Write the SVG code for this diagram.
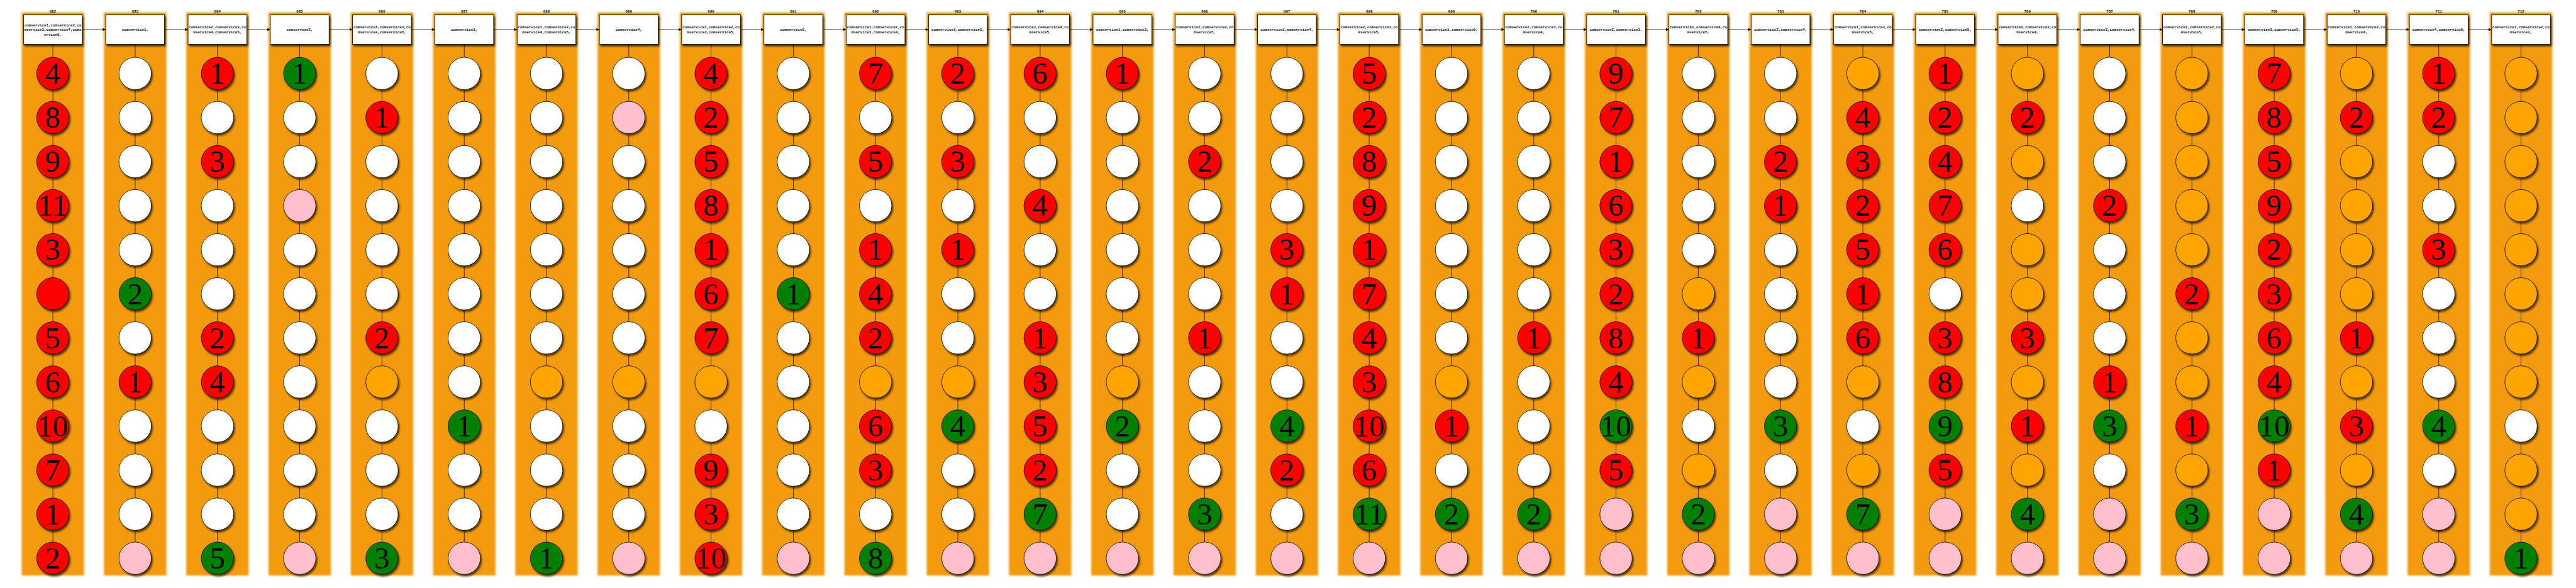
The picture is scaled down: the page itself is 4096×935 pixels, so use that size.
<svg xmlns="http://www.w3.org/2000/svg" width="4096" height="935" viewBox="0 0 4096 935">
<defs>
<style>
circle{stroke:#000;stroke-width:1.3;filter:url(#shc)}
.r{fill:#ff0000}.w{fill:#ffffff}.g{fill:#008000}.p{fill:#ffc0cb}.o{fill:#ffa500}
.d{font-family:"Liberation Serif",serif;font-size:84px;text-anchor:middle;fill:#000}
.box{fill:#fff;stroke:#000;stroke-width:1.5;filter:url(#shb)}
.bt{font-family:"Liberation Mono",monospace;font-weight:bold;font-size:10px;text-anchor:middle;fill:#000}
.lb{font-family:"Liberation Mono",monospace;font-weight:bold;font-size:10px;text-anchor:middle;fill:#000}
.lane{fill:#f39a07;filter:url(#blur)}
#connectors line{stroke:#000;stroke-width:1.3}
</style>
<filter id="blur" x="-5%" y="-1%" width="110%" height="102%"><feGaussianBlur stdDeviation="2.5"/></filter>
<filter id="shb" x="-10%" y="-10%" width="130%" height="140%"><feGaussianBlur in="SourceAlpha" stdDeviation="2.5"/><feOffset dx="4" dy="5"/><feComponentTransfer><feFuncA type="linear" slope="0.65"/></feComponentTransfer><feMerge><feMergeNode/><feMergeNode in="SourceGraphic"/></feMerge></filter>
<filter id="shc" x="-20%" y="-20%" width="150%" height="150%"><feGaussianBlur in="SourceAlpha" stdDeviation="2.5"/><feOffset dx="3" dy="5"/><feComponentTransfer><feFuncA type="linear" slope="0.65"/></feComponentTransfer><feMerge><feMergeNode/><feMergeNode in="SourceGraphic"/></feMerge></filter>
<marker id="ah" viewBox="0 0 10 10" refX="10" refY="5" markerUnits="userSpaceOnUse" markerWidth="9" markerHeight="8" orient="auto"><path d="M0,0 L10,5 L0,10 z" fill="#000"/></marker>
</defs>
<rect width="4096" height="935" fill="#fff"/>
<g transform="scale(0.584)">
<g id="lanes">
<rect class="lane" x="59" y="34" width="170" height="1533"/>
<rect class="lane" x="283" y="34" width="170" height="1533"/>
<rect class="lane" x="507" y="34" width="170" height="1533"/>
<rect class="lane" x="731" y="34" width="170" height="1533"/>
<rect class="lane" x="955" y="34" width="170" height="1533"/>
<rect class="lane" x="1179" y="34" width="170" height="1533"/>
<rect class="lane" x="1403" y="34" width="170" height="1533"/>
<rect class="lane" x="1627" y="34" width="170" height="1533"/>
<rect class="lane" x="1851" y="34" width="170" height="1533"/>
<rect class="lane" x="2075" y="34" width="170" height="1533"/>
<rect class="lane" x="2299" y="34" width="170" height="1533"/>
<rect class="lane" x="2523" y="34" width="170" height="1533"/>
<rect class="lane" x="2747" y="34" width="170" height="1533"/>
<rect class="lane" x="2971" y="34" width="170" height="1533"/>
<rect class="lane" x="3195" y="34" width="170" height="1533"/>
<rect class="lane" x="3419" y="34" width="170" height="1533"/>
<rect class="lane" x="3643" y="34" width="170" height="1533"/>
<rect class="lane" x="3867" y="34" width="170" height="1533"/>
<rect class="lane" x="4091" y="34" width="170" height="1533"/>
<rect class="lane" x="4315" y="34" width="170" height="1533"/>
<rect class="lane" x="4539" y="34" width="170" height="1533"/>
<rect class="lane" x="4763" y="34" width="170" height="1533"/>
<rect class="lane" x="4987" y="34" width="170" height="1533"/>
<rect class="lane" x="5211" y="34" width="170" height="1533"/>
<rect class="lane" x="5435" y="34" width="170" height="1533"/>
<rect class="lane" x="5659" y="34" width="170" height="1533"/>
<rect class="lane" x="5883" y="34" width="170" height="1533"/>
<rect class="lane" x="6107" y="34" width="170" height="1533"/>
<rect class="lane" x="6331" y="34" width="170" height="1533"/>
<rect class="lane" x="6555" y="34" width="170" height="1533"/>
<rect class="lane" x="6779" y="34" width="170" height="1533"/>
</g>
<g id="connectors">
<line x1="144" y1="120" x2="144" y2="1476"/><line x1="368" y1="120" x2="368" y2="1476"/><line x1="592" y1="120" x2="592" y2="1476"/><line x1="816" y1="120" x2="816" y2="1476"/><line x1="1040" y1="120" x2="1040" y2="1476"/><line x1="1264" y1="120" x2="1264" y2="1476"/><line x1="1488" y1="120" x2="1488" y2="1476"/><line x1="1712" y1="120" x2="1712" y2="1476"/><line x1="1936" y1="120" x2="1936" y2="1476"/><line x1="2160" y1="120" x2="2160" y2="1476"/><line x1="2384" y1="120" x2="2384" y2="1476"/><line x1="2608" y1="120" x2="2608" y2="1476"/><line x1="2832" y1="120" x2="2832" y2="1476"/><line x1="3056" y1="120" x2="3056" y2="1476"/><line x1="3280" y1="120" x2="3280" y2="1476"/><line x1="3504" y1="120" x2="3504" y2="1476"/><line x1="3728" y1="120" x2="3728" y2="1476"/><line x1="3952" y1="120" x2="3952" y2="1476"/><line x1="4176" y1="120" x2="4176" y2="1476"/><line x1="4400" y1="120" x2="4400" y2="1476"/><line x1="4624" y1="120" x2="4624" y2="1476"/><line x1="4848" y1="120" x2="4848" y2="1476"/><line x1="5072" y1="120" x2="5072" y2="1476"/><line x1="5296" y1="120" x2="5296" y2="1476"/><line x1="5520" y1="120" x2="5520" y2="1476"/><line x1="5744" y1="120" x2="5744" y2="1476"/><line x1="5968" y1="120" x2="5968" y2="1476"/><line x1="6192" y1="120" x2="6192" y2="1476"/><line x1="6416" y1="120" x2="6416" y2="1476"/><line x1="6640" y1="120" x2="6640" y2="1476"/><line x1="6864" y1="120" x2="6864" y2="1476"/>
<g marker-end="url(#ah)">
<line x1="224" y1="80.5" x2="288" y2="80.5"/><line x1="448" y1="80.5" x2="512" y2="80.5"/><line x1="672" y1="80.5" x2="736" y2="80.5"/><line x1="896" y1="80.5" x2="960" y2="80.5"/><line x1="1120" y1="80.5" x2="1184" y2="80.5"/><line x1="1344" y1="80.5" x2="1408" y2="80.5"/><line x1="1568" y1="80.5" x2="1632" y2="80.5"/><line x1="1792" y1="80.5" x2="1856" y2="80.5"/><line x1="2016" y1="80.5" x2="2080" y2="80.5"/><line x1="2240" y1="80.5" x2="2304" y2="80.5"/><line x1="2464" y1="80.5" x2="2528" y2="80.5"/><line x1="2688" y1="80.5" x2="2752" y2="80.5"/><line x1="2912" y1="80.5" x2="2976" y2="80.5"/><line x1="3136" y1="80.5" x2="3200" y2="80.5"/><line x1="3360" y1="80.5" x2="3424" y2="80.5"/><line x1="3584" y1="80.5" x2="3648" y2="80.5"/><line x1="3808" y1="80.5" x2="3872" y2="80.5"/><line x1="4032" y1="80.5" x2="4096" y2="80.5"/><line x1="4256" y1="80.5" x2="4320" y2="80.5"/><line x1="4480" y1="80.5" x2="4544" y2="80.5"/><line x1="4704" y1="80.5" x2="4768" y2="80.5"/><line x1="4928" y1="80.5" x2="4992" y2="80.5"/><line x1="5152" y1="80.5" x2="5216" y2="80.5"/><line x1="5376" y1="80.5" x2="5440" y2="80.5"/><line x1="5600" y1="80.5" x2="5664" y2="80.5"/><line x1="5824" y1="80.5" x2="5888" y2="80.5"/><line x1="6048" y1="80.5" x2="6112" y2="80.5"/><line x1="6272" y1="80.5" x2="6336" y2="80.5"/><line x1="6496" y1="80.5" x2="6560" y2="80.5"/><line x1="6720" y1="80.5" x2="6784" y2="80.5"/>
</g>
</g>
<g id="nodes">
<g id="col682" transform="translate(144,0)"><text class="lb" y="34.5">682</text>
<g id="box682"><rect class="box" x="-80" y="40.5" width="160" height="80"/><text class="bt" y="71.5">comservice1,comservice2,co</text><text class="bt" y="84.5">mservice3,comservice4,coms</text><text class="bt" y="97.5">ervice5,</text></g>
<g id="n682-1"><circle class="r" cy="200" r="44"/><text class="d" y="228">4</text></g>
<g id="n682-2"><circle class="r" cy="320" r="44"/><text class="d" y="348">8</text></g>
<g id="n682-3"><circle class="r" cy="440" r="44"/><text class="d" y="468">9</text></g>
<g id="n682-4"><circle class="r" cy="560" r="44"/><text class="d" y="588">11</text></g>
<g id="n682-5"><circle class="r" cy="680" r="44"/><text class="d" y="708">3</text></g>
<g id="n682-6"><circle class="r" cy="800" r="44"/></g>
<g id="n682-7"><circle class="r" cy="920" r="44"/><text class="d" y="948">5</text></g>
<g id="n682-8"><circle class="r" cy="1040" r="44"/><text class="d" y="1068">6</text></g>
<g id="n682-9"><circle class="r" cy="1160" r="44"/><text class="d" y="1188">10</text></g>
<g id="n682-10"><circle class="r" cy="1280" r="44"/><text class="d" y="1308">7</text></g>
<g id="n682-11"><circle class="r" cy="1400" r="44"/><text class="d" y="1428">1</text></g>
<g id="n682-12"><circle class="r" cy="1520" r="44"/><text class="d" y="1548">2</text></g>
</g>
<g id="col683" transform="translate(368,0)"><text class="lb" y="34.5">683</text>
<g id="box683"><rect class="box" x="-80" y="40.5" width="160" height="80"/><text class="bt" y="84.2">comservice1,</text></g>
<g id="n683-1"><circle class="w" cy="200" r="44"/></g>
<g id="n683-2"><circle class="w" cy="320" r="44"/></g>
<g id="n683-3"><circle class="w" cy="440" r="44"/></g>
<g id="n683-4"><circle class="w" cy="560" r="44"/></g>
<g id="n683-5"><circle class="w" cy="680" r="44"/></g>
<g id="n683-6"><circle class="g" cy="800" r="44"/><text class="d" y="828">2</text></g>
<g id="n683-7"><circle class="w" cy="920" r="44"/></g>
<g id="n683-8"><circle class="r" cy="1040" r="44"/><text class="d" y="1068">1</text></g>
<g id="n683-9"><circle class="w" cy="1160" r="44"/></g>
<g id="n683-10"><circle class="w" cy="1280" r="44"/></g>
<g id="n683-11"><circle class="w" cy="1400" r="44"/></g>
<g id="n683-12"><circle class="p" cy="1520" r="44"/></g>
</g>
<g id="col684" transform="translate(592,0)"><text class="lb" y="34.5">684</text>
<g id="box684"><rect class="box" x="-80" y="40.5" width="160" height="80"/><text class="bt" y="77.7">comservice2,comservice3,co</text><text class="bt" y="90.7">mservice4,comservice5,</text></g>
<g id="n684-1"><circle class="r" cy="200" r="44"/><text class="d" y="228">1</text></g>
<g id="n684-2"><circle class="w" cy="320" r="44"/></g>
<g id="n684-3"><circle class="r" cy="440" r="44"/><text class="d" y="468">3</text></g>
<g id="n684-4"><circle class="w" cy="560" r="44"/></g>
<g id="n684-5"><circle class="w" cy="680" r="44"/></g>
<g id="n684-6"><circle class="w" cy="800" r="44"/></g>
<g id="n684-7"><circle class="r" cy="920" r="44"/><text class="d" y="948">2</text></g>
<g id="n684-8"><circle class="r" cy="1040" r="44"/><text class="d" y="1068">4</text></g>
<g id="n684-9"><circle class="w" cy="1160" r="44"/></g>
<g id="n684-10"><circle class="w" cy="1280" r="44"/></g>
<g id="n684-11"><circle class="w" cy="1400" r="44"/></g>
<g id="n684-12"><circle class="g" cy="1520" r="44"/><text class="d" y="1548">5</text></g>
</g>
<g id="col685" transform="translate(816,0)"><text class="lb" y="34.5">685</text>
<g id="box685"><rect class="box" x="-80" y="40.5" width="160" height="80"/><text class="bt" y="84.2">comservice2,</text></g>
<g id="n685-1"><circle class="g" cy="200" r="44"/><text class="d" y="228">1</text></g>
<g id="n685-2"><circle class="w" cy="320" r="44"/></g>
<g id="n685-3"><circle class="w" cy="440" r="44"/></g>
<g id="n685-4"><circle class="p" cy="560" r="44"/></g>
<g id="n685-5"><circle class="w" cy="680" r="44"/></g>
<g id="n685-6"><circle class="w" cy="800" r="44"/></g>
<g id="n685-7"><circle class="w" cy="920" r="44"/></g>
<g id="n685-8"><circle class="w" cy="1040" r="44"/></g>
<g id="n685-9"><circle class="w" cy="1160" r="44"/></g>
<g id="n685-10"><circle class="w" cy="1280" r="44"/></g>
<g id="n685-11"><circle class="w" cy="1400" r="44"/></g>
<g id="n685-12"><circle class="p" cy="1520" r="44"/></g>
</g>
<g id="col686" transform="translate(1040,0)"><text class="lb" y="34.5">686</text>
<g id="box686"><rect class="box" x="-80" y="40.5" width="160" height="80"/><text class="bt" y="77.7">comservice1,comservice3,co</text><text class="bt" y="90.7">mservice4,comservice5,</text></g>
<g id="n686-1"><circle class="w" cy="200" r="44"/></g>
<g id="n686-2"><circle class="r" cy="320" r="44"/><text class="d" y="348">1</text></g>
<g id="n686-3"><circle class="w" cy="440" r="44"/></g>
<g id="n686-4"><circle class="w" cy="560" r="44"/></g>
<g id="n686-5"><circle class="w" cy="680" r="44"/></g>
<g id="n686-6"><circle class="w" cy="800" r="44"/></g>
<g id="n686-7"><circle class="r" cy="920" r="44"/><text class="d" y="948">2</text></g>
<g id="n686-8"><circle class="o" cy="1040" r="44"/></g>
<g id="n686-9"><circle class="w" cy="1160" r="44"/></g>
<g id="n686-10"><circle class="w" cy="1280" r="44"/></g>
<g id="n686-11"><circle class="w" cy="1400" r="44"/></g>
<g id="n686-12"><circle class="g" cy="1520" r="44"/><text class="d" y="1548">3</text></g>
</g>
<g id="col687" transform="translate(1264,0)"><text class="lb" y="34.5">687</text>
<g id="box687"><rect class="box" x="-80" y="40.5" width="160" height="80"/><text class="bt" y="84.2">comservice3,</text></g>
<g id="n687-1"><circle class="w" cy="200" r="44"/></g>
<g id="n687-2"><circle class="w" cy="320" r="44"/></g>
<g id="n687-3"><circle class="w" cy="440" r="44"/></g>
<g id="n687-4"><circle class="w" cy="560" r="44"/></g>
<g id="n687-5"><circle class="w" cy="680" r="44"/></g>
<g id="n687-6"><circle class="w" cy="800" r="44"/></g>
<g id="n687-7"><circle class="w" cy="920" r="44"/></g>
<g id="n687-8"><circle class="w" cy="1040" r="44"/></g>
<g id="n687-9"><circle class="g" cy="1160" r="44"/><text class="d" y="1188">1</text></g>
<g id="n687-10"><circle class="w" cy="1280" r="44"/></g>
<g id="n687-11"><circle class="w" cy="1400" r="44"/></g>
<g id="n687-12"><circle class="p" cy="1520" r="44"/></g>
</g>
<g id="col688" transform="translate(1488,0)"><text class="lb" y="34.5">688</text>
<g id="box688"><rect class="box" x="-80" y="40.5" width="160" height="80"/><text class="bt" y="77.7">comservice1,comservice2,co</text><text class="bt" y="90.7">mservice4,comservice5,</text></g>
<g id="n688-1"><circle class="w" cy="200" r="44"/></g>
<g id="n688-2"><circle class="w" cy="320" r="44"/></g>
<g id="n688-3"><circle class="w" cy="440" r="44"/></g>
<g id="n688-4"><circle class="w" cy="560" r="44"/></g>
<g id="n688-5"><circle class="w" cy="680" r="44"/></g>
<g id="n688-6"><circle class="w" cy="800" r="44"/></g>
<g id="n688-7"><circle class="w" cy="920" r="44"/></g>
<g id="n688-8"><circle class="o" cy="1040" r="44"/></g>
<g id="n688-9"><circle class="w" cy="1160" r="44"/></g>
<g id="n688-10"><circle class="w" cy="1280" r="44"/></g>
<g id="n688-11"><circle class="w" cy="1400" r="44"/></g>
<g id="n688-12"><circle class="g" cy="1520" r="44"/><text class="d" y="1548">1</text></g>
</g>
<g id="col689" transform="translate(1712,0)"><text class="lb" y="34.5">689</text>
<g id="box689"><rect class="box" x="-80" y="40.5" width="160" height="80"/><text class="bt" y="84.2">comservice4,</text></g>
<g id="n689-1"><circle class="w" cy="200" r="44"/></g>
<g id="n689-2"><circle class="p" cy="320" r="44"/></g>
<g id="n689-3"><circle class="w" cy="440" r="44"/></g>
<g id="n689-4"><circle class="w" cy="560" r="44"/></g>
<g id="n689-5"><circle class="w" cy="680" r="44"/></g>
<g id="n689-6"><circle class="w" cy="800" r="44"/></g>
<g id="n689-7"><circle class="w" cy="920" r="44"/></g>
<g id="n689-8"><circle class="o" cy="1040" r="44"/></g>
<g id="n689-9"><circle class="w" cy="1160" r="44"/></g>
<g id="n689-10"><circle class="w" cy="1280" r="44"/></g>
<g id="n689-11"><circle class="w" cy="1400" r="44"/></g>
<g id="n689-12"><circle class="p" cy="1520" r="44"/></g>
</g>
<g id="col690" transform="translate(1936,0)"><text class="lb" y="34.5">690</text>
<g id="box690"><rect class="box" x="-80" y="40.5" width="160" height="80"/><text class="bt" y="77.7">comservice1,comservice2,co</text><text class="bt" y="90.7">mservice3,comservice5,</text></g>
<g id="n690-1"><circle class="r" cy="200" r="44"/><text class="d" y="228">4</text></g>
<g id="n690-2"><circle class="r" cy="320" r="44"/><text class="d" y="348">2</text></g>
<g id="n690-3"><circle class="r" cy="440" r="44"/><text class="d" y="468">5</text></g>
<g id="n690-4"><circle class="r" cy="560" r="44"/><text class="d" y="588">8</text></g>
<g id="n690-5"><circle class="r" cy="680" r="44"/><text class="d" y="708">1</text></g>
<g id="n690-6"><circle class="r" cy="800" r="44"/><text class="d" y="828">6</text></g>
<g id="n690-7"><circle class="r" cy="920" r="44"/><text class="d" y="948">7</text></g>
<g id="n690-8"><circle class="o" cy="1040" r="44"/></g>
<g id="n690-9"><circle class="w" cy="1160" r="44"/></g>
<g id="n690-10"><circle class="r" cy="1280" r="44"/><text class="d" y="1308">9</text></g>
<g id="n690-11"><circle class="r" cy="1400" r="44"/><text class="d" y="1428">3</text></g>
<g id="n690-12"><circle class="r" cy="1520" r="44"/><text class="d" y="1548">10</text></g>
</g>
<g id="col691" transform="translate(2160,0)"><text class="lb" y="34.5">691</text>
<g id="box691"><rect class="box" x="-80" y="40.5" width="160" height="80"/><text class="bt" y="84.2">comservice5,</text></g>
<g id="n691-1"><circle class="w" cy="200" r="44"/></g>
<g id="n691-2"><circle class="w" cy="320" r="44"/></g>
<g id="n691-3"><circle class="w" cy="440" r="44"/></g>
<g id="n691-4"><circle class="w" cy="560" r="44"/></g>
<g id="n691-5"><circle class="w" cy="680" r="44"/></g>
<g id="n691-6"><circle class="g" cy="800" r="44"/><text class="d" y="828">1</text></g>
<g id="n691-7"><circle class="w" cy="920" r="44"/></g>
<g id="n691-8"><circle class="w" cy="1040" r="44"/></g>
<g id="n691-9"><circle class="w" cy="1160" r="44"/></g>
<g id="n691-10"><circle class="w" cy="1280" r="44"/></g>
<g id="n691-11"><circle class="w" cy="1400" r="44"/></g>
<g id="n691-12"><circle class="p" cy="1520" r="44"/></g>
</g>
<g id="col692" transform="translate(2384,0)"><text class="lb" y="34.5">692</text>
<g id="box692"><rect class="box" x="-80" y="40.5" width="160" height="80"/><text class="bt" y="77.7">comservice1,comservice2,co</text><text class="bt" y="90.7">mservice3,comservice4,</text></g>
<g id="n692-1"><circle class="r" cy="200" r="44"/><text class="d" y="228">7</text></g>
<g id="n692-2"><circle class="w" cy="320" r="44"/></g>
<g id="n692-3"><circle class="r" cy="440" r="44"/><text class="d" y="468">5</text></g>
<g id="n692-4"><circle class="w" cy="560" r="44"/></g>
<g id="n692-5"><circle class="r" cy="680" r="44"/><text class="d" y="708">1</text></g>
<g id="n692-6"><circle class="r" cy="800" r="44"/><text class="d" y="828">4</text></g>
<g id="n692-7"><circle class="r" cy="920" r="44"/><text class="d" y="948">2</text></g>
<g id="n692-8"><circle class="o" cy="1040" r="44"/></g>
<g id="n692-9"><circle class="r" cy="1160" r="44"/><text class="d" y="1188">6</text></g>
<g id="n692-10"><circle class="r" cy="1280" r="44"/><text class="d" y="1308">3</text></g>
<g id="n692-11"><circle class="w" cy="1400" r="44"/></g>
<g id="n692-12"><circle class="g" cy="1520" r="44"/><text class="d" y="1548">8</text></g>
</g>
<g id="col693" transform="translate(2608,0)"><text class="lb" y="34.5">693</text>
<g id="box693"><rect class="box" x="-80" y="40.5" width="160" height="80"/><text class="bt" y="84.2">comservice1,comservice2,</text></g>
<g id="n693-1"><circle class="r" cy="200" r="44"/><text class="d" y="228">2</text></g>
<g id="n693-2"><circle class="w" cy="320" r="44"/></g>
<g id="n693-3"><circle class="r" cy="440" r="44"/><text class="d" y="468">3</text></g>
<g id="n693-4"><circle class="w" cy="560" r="44"/></g>
<g id="n693-5"><circle class="r" cy="680" r="44"/><text class="d" y="708">1</text></g>
<g id="n693-6"><circle class="w" cy="800" r="44"/></g>
<g id="n693-7"><circle class="w" cy="920" r="44"/></g>
<g id="n693-8"><circle class="o" cy="1040" r="44"/></g>
<g id="n693-9"><circle class="g" cy="1160" r="44"/><text class="d" y="1188">4</text></g>
<g id="n693-10"><circle class="w" cy="1280" r="44"/></g>
<g id="n693-11"><circle class="w" cy="1400" r="44"/></g>
<g id="n693-12"><circle class="p" cy="1520" r="44"/></g>
</g>
<g id="col694" transform="translate(2832,0)"><text class="lb" y="34.5">694</text>
<g id="box694"><rect class="box" x="-80" y="40.5" width="160" height="80"/><text class="bt" y="77.7">comservice3,comservice4,co</text><text class="bt" y="90.7">mservice5,</text></g>
<g id="n694-1"><circle class="r" cy="200" r="44"/><text class="d" y="228">6</text></g>
<g id="n694-2"><circle class="w" cy="320" r="44"/></g>
<g id="n694-3"><circle class="w" cy="440" r="44"/></g>
<g id="n694-4"><circle class="r" cy="560" r="44"/><text class="d" y="588">4</text></g>
<g id="n694-5"><circle class="w" cy="680" r="44"/></g>
<g id="n694-6"><circle class="w" cy="800" r="44"/></g>
<g id="n694-7"><circle class="r" cy="920" r="44"/><text class="d" y="948">1</text></g>
<g id="n694-8"><circle class="r" cy="1040" r="44"/><text class="d" y="1068">3</text></g>
<g id="n694-9"><circle class="r" cy="1160" r="44"/><text class="d" y="1188">5</text></g>
<g id="n694-10"><circle class="r" cy="1280" r="44"/><text class="d" y="1308">2</text></g>
<g id="n694-11"><circle class="g" cy="1400" r="44"/><text class="d" y="1428">7</text></g>
<g id="n694-12"><circle class="p" cy="1520" r="44"/></g>
</g>
<g id="col695" transform="translate(3056,0)"><text class="lb" y="34.5">695</text>
<g id="box695"><rect class="box" x="-80" y="40.5" width="160" height="80"/><text class="bt" y="84.2">comservice1,comservice3,</text></g>
<g id="n695-1"><circle class="r" cy="200" r="44"/><text class="d" y="228">1</text></g>
<g id="n695-2"><circle class="w" cy="320" r="44"/></g>
<g id="n695-3"><circle class="w" cy="440" r="44"/></g>
<g id="n695-4"><circle class="w" cy="560" r="44"/></g>
<g id="n695-5"><circle class="w" cy="680" r="44"/></g>
<g id="n695-6"><circle class="w" cy="800" r="44"/></g>
<g id="n695-7"><circle class="w" cy="920" r="44"/></g>
<g id="n695-8"><circle class="o" cy="1040" r="44"/></g>
<g id="n695-9"><circle class="g" cy="1160" r="44"/><text class="d" y="1188">2</text></g>
<g id="n695-10"><circle class="w" cy="1280" r="44"/></g>
<g id="n695-11"><circle class="w" cy="1400" r="44"/></g>
<g id="n695-12"><circle class="p" cy="1520" r="44"/></g>
</g>
<g id="col696" transform="translate(3280,0)"><text class="lb" y="34.5">696</text>
<g id="box696"><rect class="box" x="-80" y="40.5" width="160" height="80"/><text class="bt" y="77.7">comservice2,comservice4,co</text><text class="bt" y="90.7">mservice5,</text></g>
<g id="n696-1"><circle class="w" cy="200" r="44"/></g>
<g id="n696-2"><circle class="w" cy="320" r="44"/></g>
<g id="n696-3"><circle class="r" cy="440" r="44"/><text class="d" y="468">2</text></g>
<g id="n696-4"><circle class="w" cy="560" r="44"/></g>
<g id="n696-5"><circle class="w" cy="680" r="44"/></g>
<g id="n696-6"><circle class="w" cy="800" r="44"/></g>
<g id="n696-7"><circle class="r" cy="920" r="44"/><text class="d" y="948">1</text></g>
<g id="n696-8"><circle class="w" cy="1040" r="44"/></g>
<g id="n696-9"><circle class="w" cy="1160" r="44"/></g>
<g id="n696-10"><circle class="w" cy="1280" r="44"/></g>
<g id="n696-11"><circle class="g" cy="1400" r="44"/><text class="d" y="1428">3</text></g>
<g id="n696-12"><circle class="p" cy="1520" r="44"/></g>
</g>
<g id="col697" transform="translate(3504,0)"><text class="lb" y="34.5">697</text>
<g id="box697"><rect class="box" x="-80" y="40.5" width="160" height="80"/><text class="bt" y="84.2">comservice1,comservice4,</text></g>
<g id="n697-1"><circle class="w" cy="200" r="44"/></g>
<g id="n697-2"><circle class="w" cy="320" r="44"/></g>
<g id="n697-3"><circle class="w" cy="440" r="44"/></g>
<g id="n697-4"><circle class="w" cy="560" r="44"/></g>
<g id="n697-5"><circle class="r" cy="680" r="44"/><text class="d" y="708">3</text></g>
<g id="n697-6"><circle class="r" cy="800" r="44"/><text class="d" y="828">1</text></g>
<g id="n697-7"><circle class="w" cy="920" r="44"/></g>
<g id="n697-8"><circle class="w" cy="1040" r="44"/></g>
<g id="n697-9"><circle class="g" cy="1160" r="44"/><text class="d" y="1188">4</text></g>
<g id="n697-10"><circle class="r" cy="1280" r="44"/><text class="d" y="1308">2</text></g>
<g id="n697-11"><circle class="w" cy="1400" r="44"/></g>
<g id="n697-12"><circle class="p" cy="1520" r="44"/></g>
</g>
<g id="col698" transform="translate(3728,0)"><text class="lb" y="34.5">698</text>
<g id="box698"><rect class="box" x="-80" y="40.5" width="160" height="80"/><text class="bt" y="77.7">comservice2,comservice3,co</text><text class="bt" y="90.7">mservice5,</text></g>
<g id="n698-1"><circle class="r" cy="200" r="44"/><text class="d" y="228">5</text></g>
<g id="n698-2"><circle class="r" cy="320" r="44"/><text class="d" y="348">2</text></g>
<g id="n698-3"><circle class="r" cy="440" r="44"/><text class="d" y="468">8</text></g>
<g id="n698-4"><circle class="r" cy="560" r="44"/><text class="d" y="588">9</text></g>
<g id="n698-5"><circle class="r" cy="680" r="44"/><text class="d" y="708">1</text></g>
<g id="n698-6"><circle class="r" cy="800" r="44"/><text class="d" y="828">7</text></g>
<g id="n698-7"><circle class="r" cy="920" r="44"/><text class="d" y="948">4</text></g>
<g id="n698-8"><circle class="r" cy="1040" r="44"/><text class="d" y="1068">3</text></g>
<g id="n698-9"><circle class="r" cy="1160" r="44"/><text class="d" y="1188">10</text></g>
<g id="n698-10"><circle class="r" cy="1280" r="44"/><text class="d" y="1308">6</text></g>
<g id="n698-11"><circle class="g" cy="1400" r="44"/><text class="d" y="1428">11</text></g>
<g id="n698-12"><circle class="p" cy="1520" r="44"/></g>
</g>
<g id="col699" transform="translate(3952,0)"><text class="lb" y="34.5">699</text>
<g id="box699"><rect class="box" x="-80" y="40.5" width="160" height="80"/><text class="bt" y="84.2">comservice1,comservice5,</text></g>
<g id="n699-1"><circle class="w" cy="200" r="44"/></g>
<g id="n699-2"><circle class="w" cy="320" r="44"/></g>
<g id="n699-3"><circle class="w" cy="440" r="44"/></g>
<g id="n699-4"><circle class="w" cy="560" r="44"/></g>
<g id="n699-5"><circle class="w" cy="680" r="44"/></g>
<g id="n699-6"><circle class="w" cy="800" r="44"/></g>
<g id="n699-7"><circle class="w" cy="920" r="44"/></g>
<g id="n699-8"><circle class="o" cy="1040" r="44"/></g>
<g id="n699-9"><circle class="r" cy="1160" r="44"/><text class="d" y="1188">1</text></g>
<g id="n699-10"><circle class="w" cy="1280" r="44"/></g>
<g id="n699-11"><circle class="g" cy="1400" r="44"/><text class="d" y="1428">2</text></g>
<g id="n699-12"><circle class="p" cy="1520" r="44"/></g>
</g>
<g id="col700" transform="translate(4176,0)"><text class="lb" y="34.5">700</text>
<g id="box700"><rect class="box" x="-80" y="40.5" width="160" height="80"/><text class="bt" y="77.7">comservice2,comservice3,co</text><text class="bt" y="90.7">mservice4,</text></g>
<g id="n700-1"><circle class="w" cy="200" r="44"/></g>
<g id="n700-2"><circle class="w" cy="320" r="44"/></g>
<g id="n700-3"><circle class="w" cy="440" r="44"/></g>
<g id="n700-4"><circle class="w" cy="560" r="44"/></g>
<g id="n700-5"><circle class="w" cy="680" r="44"/></g>
<g id="n700-6"><circle class="w" cy="800" r="44"/></g>
<g id="n700-7"><circle class="r" cy="920" r="44"/><text class="d" y="948">1</text></g>
<g id="n700-8"><circle class="w" cy="1040" r="44"/></g>
<g id="n700-9"><circle class="w" cy="1160" r="44"/></g>
<g id="n700-10"><circle class="w" cy="1280" r="44"/></g>
<g id="n700-11"><circle class="g" cy="1400" r="44"/><text class="d" y="1428">2</text></g>
<g id="n700-12"><circle class="p" cy="1520" r="44"/></g>
</g>
<g id="col701" transform="translate(4400,0)"><text class="lb" y="34.5">701</text>
<g id="box701"><rect class="box" x="-80" y="40.5" width="160" height="80"/><text class="bt" y="84.2">comservice2,comservice3,</text></g>
<g id="n701-1"><circle class="r" cy="200" r="44"/><text class="d" y="228">9</text></g>
<g id="n701-2"><circle class="r" cy="320" r="44"/><text class="d" y="348">7</text></g>
<g id="n701-3"><circle class="r" cy="440" r="44"/><text class="d" y="468">1</text></g>
<g id="n701-4"><circle class="r" cy="560" r="44"/><text class="d" y="588">6</text></g>
<g id="n701-5"><circle class="r" cy="680" r="44"/><text class="d" y="708">3</text></g>
<g id="n701-6"><circle class="r" cy="800" r="44"/><text class="d" y="828">2</text></g>
<g id="n701-7"><circle class="r" cy="920" r="44"/><text class="d" y="948">8</text></g>
<g id="n701-8"><circle class="r" cy="1040" r="44"/><text class="d" y="1068">4</text></g>
<g id="n701-9"><circle class="g" cy="1160" r="44"/><text class="d" y="1188">10</text></g>
<g id="n701-10"><circle class="r" cy="1280" r="44"/><text class="d" y="1308">5</text></g>
<g id="n701-11"><circle class="p" cy="1400" r="44"/></g>
<g id="n701-12"><circle class="p" cy="1520" r="44"/></g>
</g>
<g id="col702" transform="translate(4624,0)"><text class="lb" y="34.5">702</text>
<g id="box702"><rect class="box" x="-80" y="40.5" width="160" height="80"/><text class="bt" y="77.7">comservice1,comservice4,co</text><text class="bt" y="90.7">mservice5,</text></g>
<g id="n702-1"><circle class="w" cy="200" r="44"/></g>
<g id="n702-2"><circle class="w" cy="320" r="44"/></g>
<g id="n702-3"><circle class="w" cy="440" r="44"/></g>
<g id="n702-4"><circle class="w" cy="560" r="44"/></g>
<g id="n702-5"><circle class="w" cy="680" r="44"/></g>
<g id="n702-6"><circle class="o" cy="800" r="44"/></g>
<g id="n702-7"><circle class="r" cy="920" r="44"/><text class="d" y="948">1</text></g>
<g id="n702-8"><circle class="o" cy="1040" r="44"/></g>
<g id="n702-9"><circle class="w" cy="1160" r="44"/></g>
<g id="n702-10"><circle class="o" cy="1280" r="44"/></g>
<g id="n702-11"><circle class="g" cy="1400" r="44"/><text class="d" y="1428">2</text></g>
<g id="n702-12"><circle class="p" cy="1520" r="44"/></g>
</g>
<g id="col703" transform="translate(4848,0)"><text class="lb" y="34.5">703</text>
<g id="box703"><rect class="box" x="-80" y="40.5" width="160" height="80"/><text class="bt" y="84.2">comservice2,comservice4,</text></g>
<g id="n703-1"><circle class="w" cy="200" r="44"/></g>
<g id="n703-2"><circle class="w" cy="320" r="44"/></g>
<g id="n703-3"><circle class="r" cy="440" r="44"/><text class="d" y="468">2</text></g>
<g id="n703-4"><circle class="r" cy="560" r="44"/><text class="d" y="588">1</text></g>
<g id="n703-5"><circle class="w" cy="680" r="44"/></g>
<g id="n703-6"><circle class="w" cy="800" r="44"/></g>
<g id="n703-7"><circle class="w" cy="920" r="44"/></g>
<g id="n703-8"><circle class="w" cy="1040" r="44"/></g>
<g id="n703-9"><circle class="g" cy="1160" r="44"/><text class="d" y="1188">3</text></g>
<g id="n703-10"><circle class="w" cy="1280" r="44"/></g>
<g id="n703-11"><circle class="p" cy="1400" r="44"/></g>
<g id="n703-12"><circle class="p" cy="1520" r="44"/></g>
</g>
<g id="col704" transform="translate(5072,0)"><text class="lb" y="34.5">704</text>
<g id="box704"><rect class="box" x="-80" y="40.5" width="160" height="80"/><text class="bt" y="77.7">comservice1,comservice3,co</text><text class="bt" y="90.7">mservice5,</text></g>
<g id="n704-1"><circle class="o" cy="200" r="44"/></g>
<g id="n704-2"><circle class="r" cy="320" r="44"/><text class="d" y="348">4</text></g>
<g id="n704-3"><circle class="r" cy="440" r="44"/><text class="d" y="468">3</text></g>
<g id="n704-4"><circle class="r" cy="560" r="44"/><text class="d" y="588">2</text></g>
<g id="n704-5"><circle class="r" cy="680" r="44"/><text class="d" y="708">5</text></g>
<g id="n704-6"><circle class="r" cy="800" r="44"/><text class="d" y="828">1</text></g>
<g id="n704-7"><circle class="r" cy="920" r="44"/><text class="d" y="948">6</text></g>
<g id="n704-8"><circle class="o" cy="1040" r="44"/></g>
<g id="n704-9"><circle class="w" cy="1160" r="44"/></g>
<g id="n704-10"><circle class="o" cy="1280" r="44"/></g>
<g id="n704-11"><circle class="g" cy="1400" r="44"/><text class="d" y="1428">7</text></g>
<g id="n704-12"><circle class="p" cy="1520" r="44"/></g>
</g>
<g id="col705" transform="translate(5296,0)"><text class="lb" y="34.5">705</text>
<g id="box705"><rect class="box" x="-80" y="40.5" width="160" height="80"/><text class="bt" y="84.2">comservice2,comservice5,</text></g>
<g id="n705-1"><circle class="r" cy="200" r="44"/><text class="d" y="228">1</text></g>
<g id="n705-2"><circle class="r" cy="320" r="44"/><text class="d" y="348">2</text></g>
<g id="n705-3"><circle class="r" cy="440" r="44"/><text class="d" y="468">4</text></g>
<g id="n705-4"><circle class="r" cy="560" r="44"/><text class="d" y="588">7</text></g>
<g id="n705-5"><circle class="r" cy="680" r="44"/><text class="d" y="708">6</text></g>
<g id="n705-6"><circle class="w" cy="800" r="44"/></g>
<g id="n705-7"><circle class="r" cy="920" r="44"/><text class="d" y="948">3</text></g>
<g id="n705-8"><circle class="r" cy="1040" r="44"/><text class="d" y="1068">8</text></g>
<g id="n705-9"><circle class="g" cy="1160" r="44"/><text class="d" y="1188">9</text></g>
<g id="n705-10"><circle class="r" cy="1280" r="44"/><text class="d" y="1308">5</text></g>
<g id="n705-11"><circle class="p" cy="1400" r="44"/></g>
<g id="n705-12"><circle class="p" cy="1520" r="44"/></g>
</g>
<g id="col706" transform="translate(5520,0)"><text class="lb" y="34.5">706</text>
<g id="box706"><rect class="box" x="-80" y="40.5" width="160" height="80"/><text class="bt" y="77.7">comservice1,comservice3,co</text><text class="bt" y="90.7">mservice4,</text></g>
<g id="n706-1"><circle class="o" cy="200" r="44"/></g>
<g id="n706-2"><circle class="r" cy="320" r="44"/><text class="d" y="348">2</text></g>
<g id="n706-3"><circle class="o" cy="440" r="44"/></g>
<g id="n706-4"><circle class="w" cy="560" r="44"/></g>
<g id="n706-5"><circle class="o" cy="680" r="44"/></g>
<g id="n706-6"><circle class="o" cy="800" r="44"/></g>
<g id="n706-7"><circle class="r" cy="920" r="44"/><text class="d" y="948">3</text></g>
<g id="n706-8"><circle class="o" cy="1040" r="44"/></g>
<g id="n706-9"><circle class="r" cy="1160" r="44"/><text class="d" y="1188">1</text></g>
<g id="n706-10"><circle class="o" cy="1280" r="44"/></g>
<g id="n706-11"><circle class="g" cy="1400" r="44"/><text class="d" y="1428">4</text></g>
<g id="n706-12"><circle class="p" cy="1520" r="44"/></g>
</g>
<g id="col707" transform="translate(5744,0)"><text class="lb" y="34.5">707</text>
<g id="box707"><rect class="box" x="-80" y="40.5" width="160" height="80"/><text class="bt" y="84.2">comservice3,comservice4,</text></g>
<g id="n707-1"><circle class="w" cy="200" r="44"/></g>
<g id="n707-2"><circle class="w" cy="320" r="44"/></g>
<g id="n707-3"><circle class="w" cy="440" r="44"/></g>
<g id="n707-4"><circle class="r" cy="560" r="44"/><text class="d" y="588">2</text></g>
<g id="n707-5"><circle class="w" cy="680" r="44"/></g>
<g id="n707-6"><circle class="w" cy="800" r="44"/></g>
<g id="n707-7"><circle class="w" cy="920" r="44"/></g>
<g id="n707-8"><circle class="r" cy="1040" r="44"/><text class="d" y="1068">1</text></g>
<g id="n707-9"><circle class="g" cy="1160" r="44"/><text class="d" y="1188">3</text></g>
<g id="n707-10"><circle class="w" cy="1280" r="44"/></g>
<g id="n707-11"><circle class="p" cy="1400" r="44"/></g>
<g id="n707-12"><circle class="p" cy="1520" r="44"/></g>
</g>
<g id="col708" transform="translate(5968,0)"><text class="lb" y="34.5">708</text>
<g id="box708"><rect class="box" x="-80" y="40.5" width="160" height="80"/><text class="bt" y="77.7">comservice1,comservice2,co</text><text class="bt" y="90.7">mservice5,</text></g>
<g id="n708-1"><circle class="o" cy="200" r="44"/></g>
<g id="n708-2"><circle class="o" cy="320" r="44"/></g>
<g id="n708-3"><circle class="o" cy="440" r="44"/></g>
<g id="n708-4"><circle class="o" cy="560" r="44"/></g>
<g id="n708-5"><circle class="o" cy="680" r="44"/></g>
<g id="n708-6"><circle class="r" cy="800" r="44"/><text class="d" y="828">2</text></g>
<g id="n708-7"><circle class="o" cy="920" r="44"/></g>
<g id="n708-8"><circle class="o" cy="1040" r="44"/></g>
<g id="n708-9"><circle class="r" cy="1160" r="44"/><text class="d" y="1188">1</text></g>
<g id="n708-10"><circle class="o" cy="1280" r="44"/></g>
<g id="n708-11"><circle class="g" cy="1400" r="44"/><text class="d" y="1428">3</text></g>
<g id="n708-12"><circle class="p" cy="1520" r="44"/></g>
</g>
<g id="col709" transform="translate(6192,0)"><text class="lb" y="34.5">709</text>
<g id="box709"><rect class="box" x="-80" y="40.5" width="160" height="80"/><text class="bt" y="84.2">comservice3,comservice5,</text></g>
<g id="n709-1"><circle class="r" cy="200" r="44"/><text class="d" y="228">7</text></g>
<g id="n709-2"><circle class="r" cy="320" r="44"/><text class="d" y="348">8</text></g>
<g id="n709-3"><circle class="r" cy="440" r="44"/><text class="d" y="468">5</text></g>
<g id="n709-4"><circle class="r" cy="560" r="44"/><text class="d" y="588">9</text></g>
<g id="n709-5"><circle class="r" cy="680" r="44"/><text class="d" y="708">2</text></g>
<g id="n709-6"><circle class="r" cy="800" r="44"/><text class="d" y="828">3</text></g>
<g id="n709-7"><circle class="r" cy="920" r="44"/><text class="d" y="948">6</text></g>
<g id="n709-8"><circle class="r" cy="1040" r="44"/><text class="d" y="1068">4</text></g>
<g id="n709-9"><circle class="g" cy="1160" r="44"/><text class="d" y="1188">10</text></g>
<g id="n709-10"><circle class="r" cy="1280" r="44"/><text class="d" y="1308">1</text></g>
<g id="n709-11"><circle class="p" cy="1400" r="44"/></g>
<g id="n709-12"><circle class="p" cy="1520" r="44"/></g>
</g>
<g id="col710" transform="translate(6416,0)"><text class="lb" y="34.5">710</text>
<g id="box710"><rect class="box" x="-80" y="40.5" width="160" height="80"/><text class="bt" y="77.7">comservice1,comservice2,co</text><text class="bt" y="90.7">mservice4,</text></g>
<g id="n710-1"><circle class="o" cy="200" r="44"/></g>
<g id="n710-2"><circle class="r" cy="320" r="44"/><text class="d" y="348">2</text></g>
<g id="n710-3"><circle class="o" cy="440" r="44"/></g>
<g id="n710-4"><circle class="o" cy="560" r="44"/></g>
<g id="n710-5"><circle class="o" cy="680" r="44"/></g>
<g id="n710-6"><circle class="o" cy="800" r="44"/></g>
<g id="n710-7"><circle class="r" cy="920" r="44"/><text class="d" y="948">1</text></g>
<g id="n710-8"><circle class="o" cy="1040" r="44"/></g>
<g id="n710-9"><circle class="r" cy="1160" r="44"/><text class="d" y="1188">3</text></g>
<g id="n710-10"><circle class="o" cy="1280" r="44"/></g>
<g id="n710-11"><circle class="g" cy="1400" r="44"/><text class="d" y="1428">4</text></g>
<g id="n710-12"><circle class="p" cy="1520" r="44"/></g>
</g>
<g id="col711" transform="translate(6640,0)"><text class="lb" y="34.5">711</text>
<g id="box711"><rect class="box" x="-80" y="40.5" width="160" height="80"/><text class="bt" y="84.2">comservice4,comservice5,</text></g>
<g id="n711-1"><circle class="r" cy="200" r="44"/><text class="d" y="228">1</text></g>
<g id="n711-2"><circle class="r" cy="320" r="44"/><text class="d" y="348">2</text></g>
<g id="n711-3"><circle class="w" cy="440" r="44"/></g>
<g id="n711-4"><circle class="w" cy="560" r="44"/></g>
<g id="n711-5"><circle class="r" cy="680" r="44"/><text class="d" y="708">3</text></g>
<g id="n711-6"><circle class="w" cy="800" r="44"/></g>
<g id="n711-7"><circle class="w" cy="920" r="44"/></g>
<g id="n711-8"><circle class="w" cy="1040" r="44"/></g>
<g id="n711-9"><circle class="g" cy="1160" r="44"/><text class="d" y="1188">4</text></g>
<g id="n711-10"><circle class="w" cy="1280" r="44"/></g>
<g id="n711-11"><circle class="p" cy="1400" r="44"/></g>
<g id="n711-12"><circle class="p" cy="1520" r="44"/></g>
</g>
<g id="col712" transform="translate(6864,0)"><text class="lb" y="34.5">712</text>
<g id="box712"><rect class="box" x="-80" y="40.5" width="160" height="80"/><text class="bt" y="77.7">comservice1,comservice2,co</text><text class="bt" y="90.7">mservice3,</text></g>
<g id="n712-1"><circle class="o" cy="200" r="44"/></g>
<g id="n712-2"><circle class="o" cy="320" r="44"/></g>
<g id="n712-3"><circle class="o" cy="440" r="44"/></g>
<g id="n712-4"><circle class="o" cy="560" r="44"/></g>
<g id="n712-5"><circle class="o" cy="680" r="44"/></g>
<g id="n712-6"><circle class="o" cy="800" r="44"/></g>
<g id="n712-7"><circle class="o" cy="920" r="44"/></g>
<g id="n712-8"><circle class="o" cy="1040" r="44"/></g>
<g id="n712-9"><circle class="w" cy="1160" r="44"/></g>
<g id="n712-10"><circle class="o" cy="1280" r="44"/></g>
<g id="n712-11"><circle class="o" cy="1400" r="44"/></g>
<g id="n712-12"><circle class="g" cy="1520" r="44"/><text class="d" y="1548">1</text></g>
</g>
</g>
</g>
</svg>
